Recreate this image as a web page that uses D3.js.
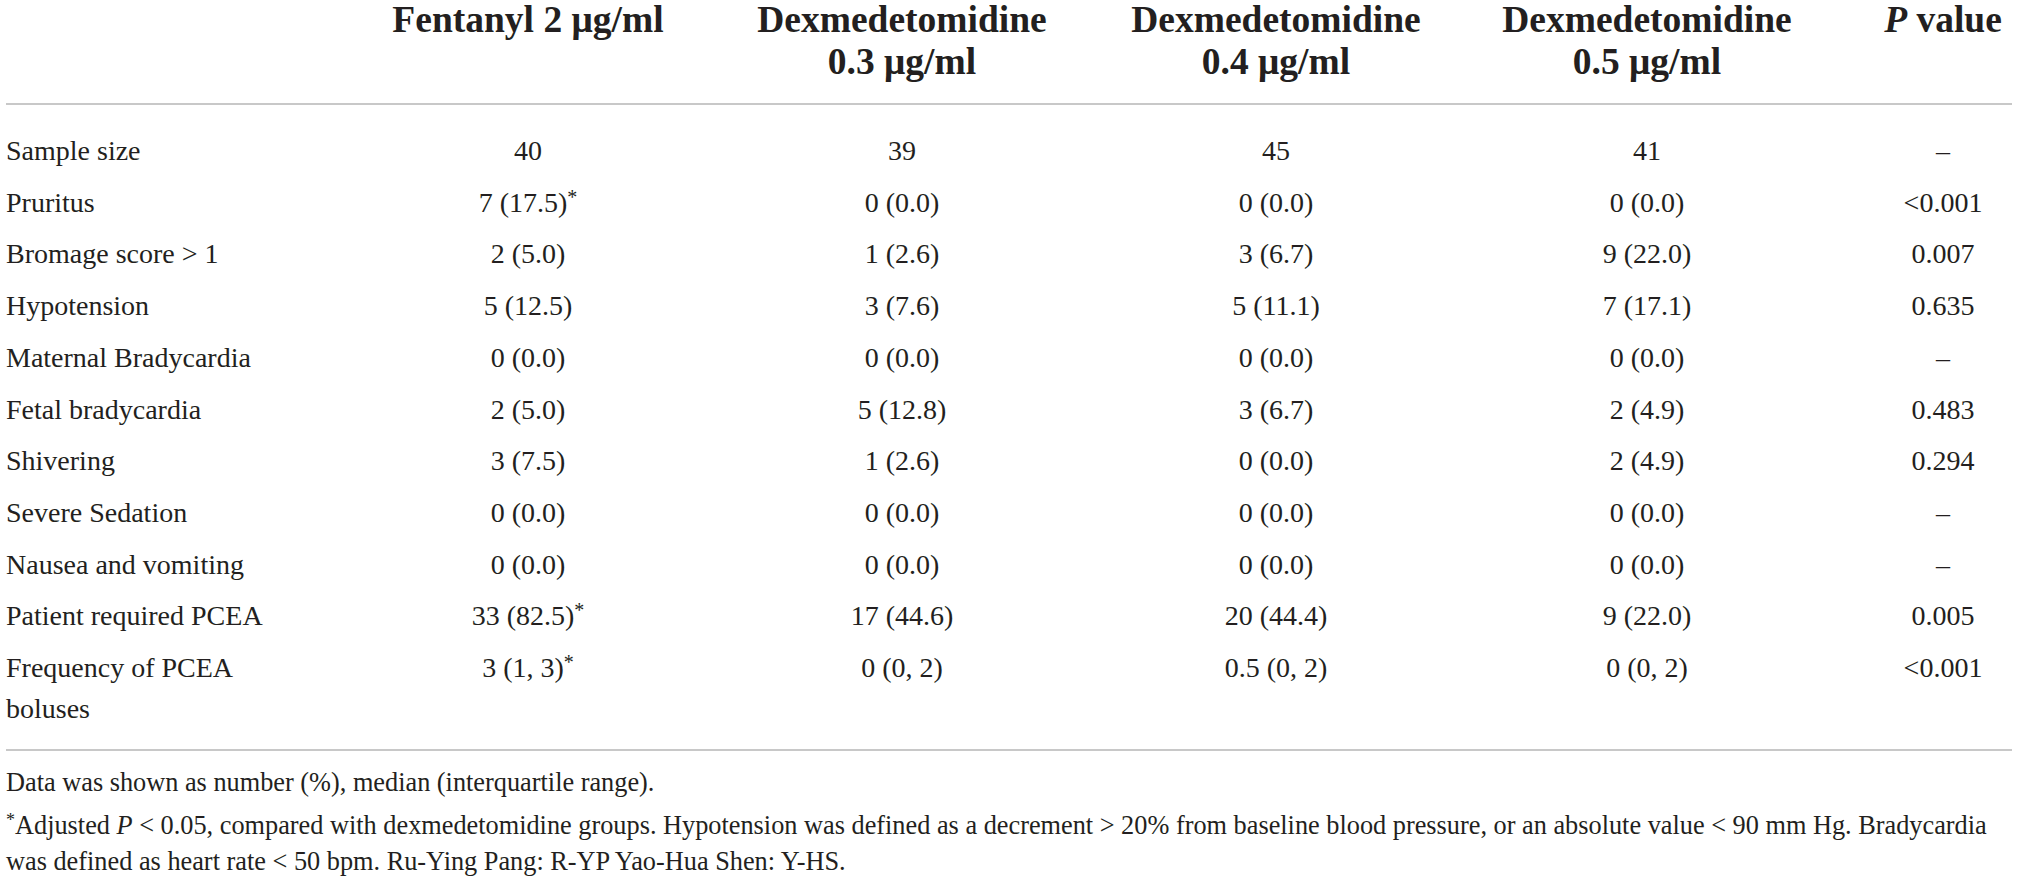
<!DOCTYPE html>
<html>
<head>
<meta charset="utf-8">
<script src="https://cdn.jsdelivr.net/npm/d3@7"></script>
<style>
  html, body { margin: 0; padding: 0; background: #fff; }
  svg { display: block; }
  svg text { font-family: "Liberation Serif", "Times New Roman", serif; }
</style>
</head>
<body>
<div id="table"></div>
<script>
// Column headers (two lines each)
const headers = [
  ["Fentanyl 2 μg/ml"],
  ["Dexmedetomidine", "0.3 μg/ml"],
  ["Dexmedetomidine", "0.4 μg/ml"],
  ["Dexmedetomidine", "0.5 μg/ml"],
  ["P value"]
];

// Row labels
const rowLabels = [
  ["Sample size"],
  ["Pruritus"],
  ["Bromage score > 1"],
  ["Hypotension"],
  ["Maternal Bradycardia"],
  ["Fetal bradycardia"],
  ["Shivering"],
  ["Severe Sedation"],
  ["Nausea and vomiting"],
  ["Patient required PCEA"],
  ["Frequency of PCEA", "boluses"]
];

// Values per group (a trailing * marks adjusted P < 0.05)
const fentanyl = ["40", "7 (17.5)*", "2 (5.0)", "5 (12.5)", "0 (0.0)", "2 (5.0)", "3 (7.5)", "0 (0.0)", "0 (0.0)", "33 (82.5)*", "3 (1, 3)*"];
const dex03 = ["39", "0 (0.0)", "1 (2.6)", "3 (7.6)", "0 (0.0)", "5 (12.8)", "1 (2.6)", "0 (0.0)", "0 (0.0)", "17 (44.6)", "0 (0, 2)"];
const dex04 = ["45", "0 (0.0)", "3 (6.7)", "5 (11.1)", "0 (0.0)", "3 (6.7)", "0 (0.0)", "0 (0.0)", "0 (0.0)", "20 (44.4)", "0.5 (0, 2)"];
const dex05 = ["41", "0 (0.0)", "9 (22.0)", "7 (17.1)", "0 (0.0)", "2 (4.9)", "2 (4.9)", "0 (0.0)", "0 (0.0)", "9 (22.0)", "0 (0, 2)"];
const pValues = ["–", "<0.001", "0.007", "0.635", "–", "0.483", "0.294", "–", "–", "0.005", "<0.001"];

const footnotes = [
  "Data was shown as number (%), median (interquartile range).",
  "*Adjusted P < 0.05, compared with dexmedetomidine groups. Hypotension was defined as a decrement > 20% from baseline blood pressure, or an absolute value < 90 mm Hg. Bradycardia",
  "was defined as heart rate < 50 bpm. Ru-Ying Pang: R-YP Yao-Hua Shen: Y-HS."
];

const columns = [fentanyl, dex03, dex04, dex05, pValues];

/**--------------------------
 Layout
 --------------------------*/
const width = 2019, height = 878;
const ink = "#231f20";
const ruleColor = "#c8c8c8";

const svg = d3.select("#table")
  .append("svg")
  .attr("width", width)
  .attr("height", height);

svg.append("rect").attr("width", width).attr("height", height).attr("fill", "#fff");

// column centres
const x = d3.scaleOrdinal()
  .domain(d3.range(columns.length))
  .range([528, 902, 1276, 1647, 1943]);

// row centres
const y = d3.scalePoint()
  .domain(d3.range(rowLabels.length))
  .range([150, 667]);

// header
const head = svg.append("g")
  .attr("font-weight", "bold")
  .attr("font-size", 37.5)
  .attr("fill", ink)
  .attr("text-anchor", "middle");

headers.forEach((lines, i) => {
  lines.forEach((line, j) => {
    const t = head.append("text")
      .attr("x", x(i))
      .attr("y", 32 + j * 42);
    if (line.startsWith("P ")) {
      t.append("tspan").attr("font-style", "italic").text("P");
      t.append("tspan").text(line.slice(1));
    } else {
      t.text(line);
    }
  });
});

// rules
[104, 750].forEach(ry => {
  svg.append("line")
    .attr("x1", 6).attr("x2", 2012)
    .attr("y1", ry).attr("y2", ry)
    .attr("stroke", ruleColor)
    .attr("stroke-width", 2);
});

// body
const body = svg.append("g")
  .attr("font-size", 28)
  .attr("fill", ink);

// row labels
rowLabels.forEach((lines, i) => {
  lines.forEach((line, j) => {
    body.append("text")
      .attr("x", 6)
      .attr("y", y(i) + 10 + j * 41)
      .text(line);
  });
});

// cells
columns.forEach((col, ci) => {
  col.forEach((val, ri) => {
    const t = body.append("text")
      .attr("x", x(ci))
      .attr("y", y(ri) + 10)
      .attr("text-anchor", "middle");
    if (val.endsWith("*")) {
      t.append("tspan").text(val.slice(0, -1));
      t.append("tspan")
        .attr("font-size", 20)
        .attr("dy", -8)
        .text("*");
    } else {
      t.text(val);
    }
  });
});

// footnotes
const foot = svg.append("g")
  .attr("font-size", 26.3)
  .attr("fill", ink);

const footY = [782, 825, 861];
footnotes.forEach((line, i) => {
  const t = foot.append("text")
    .attr("x", 6)
    .attr("y", footY[i] + 9);
  if (line.startsWith("*Adjusted P")) {
    t.append("tspan").attr("font-size", 18).attr("dy", -8).text("*");
    t.append("tspan").attr("dy", 8).text("Adjusted ");
    t.append("tspan").attr("font-style", "italic").text("P");
    t.append("tspan").text(line.slice("*Adjusted P".length));
  } else {
    t.text(line);
  }
});
</script>
</body>
</html>
